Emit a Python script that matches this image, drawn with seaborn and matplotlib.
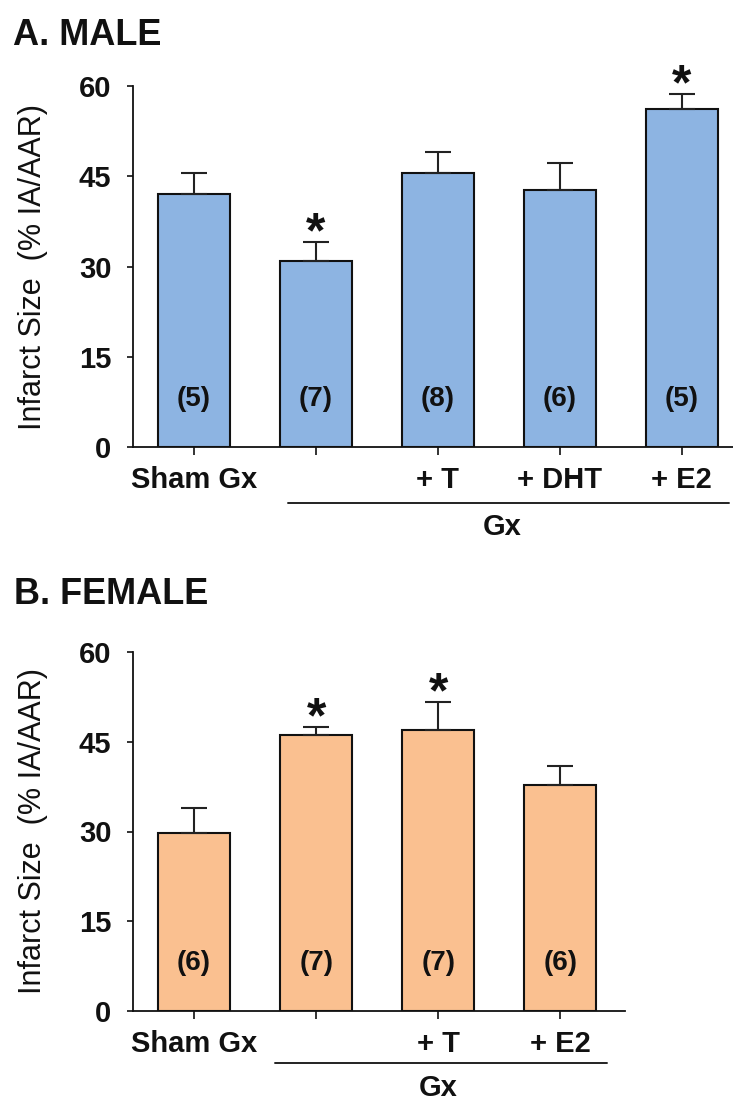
import matplotlib
matplotlib.use("Agg")
import matplotlib.pyplot as plt
import matplotlib.transforms as mtransforms
import seaborn as sns
import pandas as pd

# ---------------- data ----------------
male_groups = ["Sham Gx", "Gx", "Gx + T", "Gx + DHT", "Gx + E2"]
male_ticklabels = ["Sham Gx", "", "+ T", "+ DHT", "+ E2"]
male_mean = [42.1, 30.9, 45.6, 42.7, 56.1]
male_sem = [3.5, 3.2, 3.5, 4.5, 2.6]
male_n = ["(5)", "(7)", "(8)", "(6)", "(5)"]
male_sig = [False, True, False, False, True]

female_groups = ["Sham Gx", "Gx", "Gx + T", "Gx + E2"]
female_ticklabels = ["Sham Gx", "", "+ T", "+ E2"]
female_mean = [29.7, 46.2, 46.9, 37.8]
female_sem = [4.3, 1.3, 4.7, 3.2]
female_n = ["(6)", "(7)", "(7)", "(6)"]
female_sig = [False, True, True, False]

yticks = [0, 15, 30, 45, 60]
ylabel = "Infarct Size  (% IA/AAR)"
bracket_label = "Gx"

# ---------------- style ----------------
sns.set_style("ticks")
plt.rcParams["font.family"] = ["Liberation Sans", "DejaVu Sans"]

W, H = 733, 1100
fig = plt.figure(figsize=(W / 100, H / 100), dpi=100)

def fx(px):
    return px / W

def fy(py):
    return 1 - py / H

def panel(ax, groups, ticklabels, mean, sem, nlab, sig, color, xmax,
          br_x0, br_x1, br_y, gx_x, gx_y):
    df = pd.DataFrame({"group": groups, "value": mean})
    sns.barplot(data=df, x="group", y="value", order=groups, color=color,
                width=0.59, edgecolor="#111111", linewidth=1.5,
                saturation=1, errorbar=None, ax=ax)
    xs = list(range(len(groups)))
    ax.errorbar(xs, mean, yerr=[[0] * len(sem), sem], fmt="none",
                ecolor="#222222", elinewidth=1.5, capsize=9.5,
                capthick=1.5, zorder=5)
    for x, m, s, n, g in zip(xs, mean, sem, nlab, sig):
        ax.text(x, 8, n, ha="center", va="center", fontsize=20,
                fontweight="bold", color="#111111", zorder=6)
        if g:
            ax.annotate("*", xy=(x, m + s), xytext=(0, -4),
                        textcoords="offset points", ha="center",
                        va="baseline", fontsize=36, fontweight="bold",
                        annotation_clip=False, color="#111111")
    ax.set_xlim(-0.5, xmax)
    ax.set_ylim(0, 60)
    ax.set_yticks(yticks)
    ax.set_yticklabels([str(t) for t in yticks], fontsize=21,
                       fontweight="bold")
    ax.set_xticks(xs)
    ax.set_xticklabels(ticklabels, fontsize=21, fontweight="bold")
    ax.set_xlabel("")
    ax.set_ylabel(ylabel, fontsize=22, labelpad=22, color="#111111")
    ax.tick_params(axis="y", length=4.5, width=1.2, pad=11, colors="#111111")
    ax.tick_params(axis="x", length=6, width=1.2, pad=8, colors="#111111")
    for sp in ["top", "right"]:
        ax.spines[sp].set_visible(False)
    for sp in ["left", "bottom"]:
        ax.spines[sp].set_linewidth(1.3)
        ax.spines[sp].set_color("#111111")
    trans = mtransforms.blended_transform_factory(ax.transData, fig.transFigure)
    ax.plot([br_x0, br_x1], [br_y, br_y], color="#222222", lw=1.4,
            transform=trans, clip_on=False)
    ax.text(gx_x, gx_y, bracket_label, transform=trans, ha="center",
            va="center", fontsize=21, fontweight="bold", color="#111111")

# Panel A
axA = fig.add_axes([fx(133), fy(447), fx(600), fy(86) - fy(447)])
panel(axA, male_groups, male_ticklabels, male_mean, male_sem, male_n,
      male_sig, "#8DB4E2", 4.42, 0.77, 4.39, fy(503), 2.53, fy(527))
fig.text(fx(13), fy(45), "A. MALE", fontsize=26, fontweight="bold",
         va="baseline", ha="left", color="#111111")

# Panel B
axB = fig.add_axes([fx(133), fy(1011), fx(492), fy(652) - fy(1011)])
panel(axB, female_groups, female_ticklabels, female_mean, female_sem,
      female_n, female_sig, "#FAC090", 3.53, 0.66, 3.38, fy(1063), 2.0,
      fy(1088))
fig.text(fx(14), fy(604), "B. FEMALE", fontsize=26, fontweight="bold",
         va="baseline", ha="left", color="#111111")

fig.savefig("out.png", dpi=100)
